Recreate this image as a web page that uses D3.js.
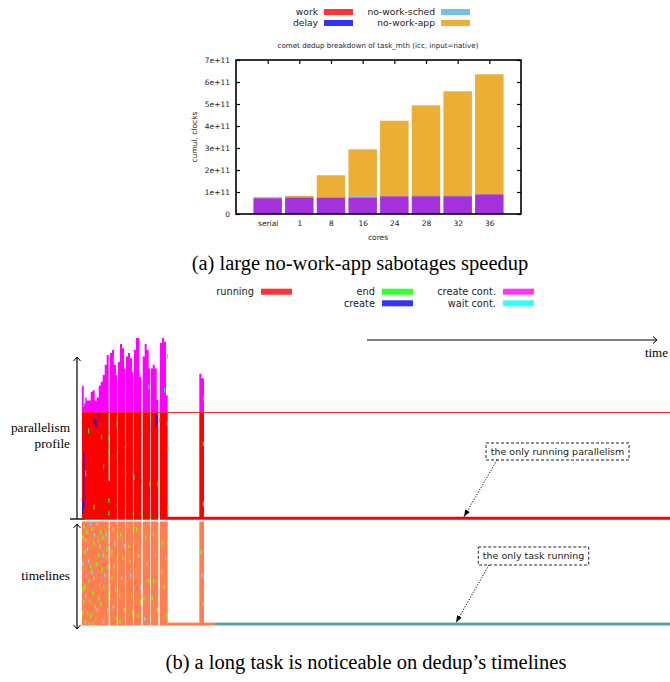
<!DOCTYPE html>
<html>
<head>
<meta charset="utf-8">
<title>dedup breakdown</title>
<style>
    body {
        margin: 0;
        background: #ffffff;
    }
    svg {
        display: block;
        font-family: "DejaVu Sans", sans-serif;
    }
    .serif {
        font-family: "Liberation Serif", "Times New Roman", serif;
    }
</style>
</head>
<body>
<svg id="fig" width="670" height="682"></svg>
<script src="https://d3js.org/d3.v7.min.js"></script>
<script>
// ---------- (a) cumulative clocks breakdown, values in units of 1e11
const cores = ['serial', '1', '8', '16', '24', '28', '32', '36'];
const workPart  = [0.72, 0.76, 0.76, 0.76, 0.81, 0.81, 0.81, 0.90];
const schedPart = [0, 0, 0, 0.05, 0, 0, 0, 0];
const otherPart = [0, 0, 0, 0, 0, 0.04, 0.04, 0];
const appPart   = [0.05, 0.06, 1.00, 2.13, 3.43, 4.09, 4.73, 5.45];
const yTicks = [0, 1, 2, 3, 4, 5, 6, 7];
const legendA = [
    ['work', '#ff3333'], ['delay', '#3333ff'],
    ['no-work-sched', '#74bfe9'], ['no-work-app', '#ebaf36']
];

// ---------- (b) parallelism profile: step function [time, active tasks]
const coreCount = 36;
const profile = [
    [0, 45], [1.7, 39], [3.3, 41], [4.7, 40], [8.7, 43], [10.7, 43.5], [12.7, 40], [14.7, 41],
    [16.7, 45], [18.7, 46.3], [20.7, 48.6], [22.7, 52], [24.7, 55.3],
    [26.7, 13], [28, 56], [30, 57], [32, 52], [34, 48.6],
    [35.3, 0], [36, 53], [38, 59], [40, 57.6], [42, 50.8],
    [43.3, 0], [44, 54.8], [46, 56], [48, 54.2], [50, 49.7],
    [51.3, 0], [52, 57], [54, 61], [56, 61], [57.3, 48],
    [59.3, 0], [60.7, 54.8], [62.7, 59], [64.7, 57], [66.7, 50.8],
    [68, 0], [68.7, 50.8], [70.7, 52], [72.7, 50.8], [74.7, 40.2],
    [76.3, 0], [78, 59.3], [80, 61], [82, 59.8], [84, 41.8],
    [85.7, 1], [117.3, 49], [119.3, 47.5], [122, 1], [588, 1]
];
// small events inside the profile: [time, from level, to level, kind]
const profileEvents = [
    [1.3, 4, 23, 'create'], [11.3, 32, 34.5, 'create'], [13.3, 31, 33.5, 'create'],
    [16.3, 34.5, 36, 'create'], [73, 31, 35.7, 'create'], [74.3, 32, 35, 'create'],
    [0.3, 2, 6, 'create'],
    [3, 14.5, 16.5, 'end'], [11.3, 3.4, 5, 'end'], [19, 27, 28.6, 'end'],
    [26.3, 26.4, 28, 'end'], [26.3, 22, 23.5, 'end'], [26.3, 5.6, 7.2, 'end'],
    [26.3, 1.3, 2.9, 'end'], [34.7, 32.6, 34.2, 'end'], [34.7, 4, 5.6, 'end'],
    [43, 14.6, 16.2, 'end'], [43, 4, 5.6, 'end'], [50.7, 14.6, 16.2, 'end'],
    [50.7, 1.2, 2.8, 'end'], [59, 12.2, 13.8, 'end'], [59.7, 1.2, 2.8, 'end'],
    [67.3, 11.2, 12.8, 'end'], [68, 0.6, 2.2, 'end'], [75.3, 11.2, 12.8, 'end'],
    [77, 32.6, 34.2, 'end'], [85.3, 23, 24.6, 'end'], [85.3, 3.4, 5, 'end'],
    [120.7, 24.7, 26.3, 'end'], [120.7, 4.5, 6.1, 'end'],
    [34.7, 20.5, 22.1, 'end'], [43, 25, 26.6, 'end'], [59, 28, 29.6, 'end'],
    [21, 17, 18.6, 'end'], [6, 29, 30.6, 'end'],
    [1.3, 38, 41, 'wait'], [31.3, 52.8, 54.4, 'wait'], [34.7, 31, 32.6, 'wait'],
    [51.3, 13.5, 15.1, 'wait'], [57, 48.2, 49.8, 'wait'], [66.3, 43.8, 45.4, 'wait'],
    [76.3, 0.6, 2.2, 'wait'], [82, 42.7, 44.3, 'wait'], [84.7, 31.5, 33.1, 'wait'],
    [84.7, 54, 55.6, 'wait'], [121.3, 39.9, 41.5, 'wait']
];

// ---------- (b) timelines
const workers = 36;
const busyPhases = [
    [0, 26.7], [28, 35.3], [36, 43.3], [44, 51.3], [52, 59.3],
    [60.7, 68], [68.7, 76.3], [78, 85.7], [117.3, 122]
];
const longTask = [[85.7, 133, '#ff7f50'], [133, 588, '#5f9ea0']];
const longTaskWorker = 35;
// [time, worker, kind]
const timelineEvents = [
    [1.3, 1, 'end'], [8, 0, 'wait'], [14.7, 0, 'wait'], [3, 6, 'end'], [2, 10, 'end'],
    [11.3, 7, 'end'], [18, 3, 'end'], [17.3, 8, 'wait'], [23, 12, 'end'], [19.7, 16, 'end'],
    [9.7, 17, 'wait'], [6.3, 20, 'end'], [1.3, 27, 'end'], [3, 25, 'wait'], [16.3, 26, 'end'],
    [14.7, 30, 'wait'], [8, 32, 'end'], [6.3, 35, 'wait'], [21.3, 22, 'end'], [4, 3, 'end'],
    [12, 4, 'wait'], [20, 5, 'end'], [24, 9, 'end'], [6, 13, 'wait'], [14, 14, 'end'],
    [22, 18, 'wait'], [2, 22, 'end'], [10, 24, 'end'], [18, 28, 'end'], [25, 30, 'wait'],
    [5, 31, 'end'], [13, 33, 'end'], [21, 34, 'wait'], [16, 11, 'end'], [8, 15, 'end'],
    [26, 25, 'end'], [3, 18, 'wait'], [0.5, 5, 'end'], [0.5, 14, 'wait'], [0.5, 23, 'end'],
    [0.5, 31, 'end'], [4.7, 9, 'wait'], [7, 27, 'end'], [9, 2, 'end'], [11, 19, 'wait'],
    [12.7, 29, 'end'], [15.3, 6, 'end'], [17, 21, 'wait'], [19, 33, 'end'], [23.7, 4, 'wait'],
    [25, 15, 'end'], [20.3, 11, 'wait'], [2.7, 34, 'end'], [10.3, 35, 'end'],
    [30.7, 2, 'end'], [32.3, 7, 'wait'], [31.3, 15, 'end'], [33, 23, 'end'], [30.7, 29, 'wait'],
    [29, 10, 'end'], [34, 33, 'end'], [29.3, 19, 'end'],
    [38, 4, 'end'], [40.3, 12, 'end'], [39, 19, 'wait'], [41.3, 30, 'end'], [37, 25, 'end'],
    [42, 8, 'wait'], [37.3, 34, 'end'],
    [46.3, 8, 'end'], [48, 18, 'wait'], [49, 25, 'end'], [45, 1, 'end'], [50, 31, 'end'],
    [47, 13, 'end'],
    [54, 2, 'end'], [56.3, 11, 'end'], [58, 22, 'wait'], [55.3, 32, 'end'], [53, 16, 'end'],
    [57.7, 27, 'end'],
    [63, 5, 'end'], [64.7, 14, 'wait'], [61.3, 26, 'end'], [66, 20, 'end'], [62, 33, 'wait'],
    [70.7, 4, 'end'], [73, 11, 'wait'], [71.3, 20, 'end'], [74.7, 30, 'end'], [69.7, 26, 'end'],
    [79.7, 7, 'end'], [83, 12, 'wait'], [81.3, 22, 'end'], [84, 32, 'end'], [79, 17, 'end'],
    [84.7, 27, 'wait'],
    [118, 10, 'end'], [119.7, 18, 'wait'], [120.7, 28, 'end']
];
const legendB = [
    ['running', '#ff3333', 0, 0], ['end', '#33ff33', 1, 0], ['create', '#3333ff', 1, 1],
    ['create cont.', '#ff33ff', 2, 0], ['wait cont.', '#33ffff', 2, 1]
];

const svg = d3.select('#fig');

// ================= (a) =================
const ax = d3.scalePoint().domain(cores).range([236, 521]).padding(1);
const ay = d3.scaleLinear().domain([0, 7]).range([214, 60]);
const barColors = { work: '#a431dc', sched: '#74bfe9', other: '#3aa676', app: '#ebaf36' };
const barRows = cores.map((c, i) => ({
    core: c, work: workPart[i], sched: schedPart[i], other: otherPart[i], app: appPart[i]
}));
const stacked = d3.stack().keys(['work', 'sched', 'other', 'app'])(barRows);
const bw = ax.step() * 0.9;

const ga = svg.append('g');
ga.selectAll('g.layer')
    .data(stacked)
    .join('g')
    .attr('class', 'layer')
    .attr('fill', d => barColors[d.key])
    .selectAll('rect')
    .data(d => d)
    .join('rect')
    .attr('x', d => ax(d.data.core) - bw / 2)
    .attr('width', bw)
    .attr('y', d => ay(d[1]))
    .attr('height', d => ay(d[0]) - ay(d[1]));

function styleAxis(g) {
    g.select('.domain').remove();
    g.attr('font-family', '"DejaVu Sans", sans-serif').attr('font-size', 7.5);
    g.selectAll('text').attr('fill', '#222');
    g.selectAll('line').attr('stroke', '#000').attr('stroke-width', 1.2);
}

ga.append('g')
    .attr('transform', 'translate(236,0)')
    .call(d3.axisLeft(ay).tickValues(yTicks).tickSize(-4).tickPadding(6)
        .tickFormat(v => v === 0 ? '0' : v + 'e+11'))
    .call(styleAxis);
ga.append('g')
    .attr('transform', 'translate(521,0)')
    .call(d3.axisRight(ay).tickValues(yTicks).tickSize(-4).tickFormat(''))
    .call(styleAxis);
ga.append('g')
    .attr('transform', 'translate(0,60)')
    .call(d3.axisTop(ax).tickSize(-4).tickFormat(''))
    .call(styleAxis);
ga.append('g')
    .attr('transform', 'translate(0,214)')
    .call(d3.axisBottom(ax).tickSize(0).tickPadding(7))
    .call(styleAxis);

ga.append('rect')
    .attr('x', 236).attr('y', 60).attr('width', 285).attr('height', 154)
    .attr('fill', 'none').attr('stroke', '#000').attr('stroke-width', 1.6);

ga.append('text')
    .attr('x', 378).attr('y', 48)
    .attr('text-anchor', 'middle').attr('font-size', 7.1).attr('fill', '#222')
    .text('comet dedup breakdown of task_mth (icc, input=native)');
ga.append('text')
    .attr('transform', 'translate(196.5,137) rotate(-90)')
    .attr('text-anchor', 'middle').attr('font-size', 7.5).attr('fill', '#222')
    .text('cumul. clocks');
ga.append('text')
    .attr('x', 378).attr('y', 240)
    .attr('text-anchor', 'middle').attr('font-size', 7.5).attr('fill', '#222')
    .text('cores');

// legend (a)
const legA = ga.append('g')
    .selectAll('g')
    .data(legendA)
    .join('g')
    .attr('transform', (d, i) => `translate(${318 + Math.floor(i / 2) * 117},${12 + (i % 2) * 11})`);
legA.append('text')
    .attr('text-anchor', 'end').attr('dy', '0.35em')
    .attr('font-size', 9.2).attr('fill', '#222')
    .text(d => d[0]);
legA.append('rect')
    .attr('x', 6).attr('y', -3).attr('width', 29).attr('height', 6)
    .attr('fill', d => d[1]);

svg.append('text')
    .attr('class', 'serif')
    .attr('x', 360).attr('y', 270)
    .attr('text-anchor', 'middle').attr('font-size', 20.5)
    .text('(a) large no-work-app sabotages speedup');

// ================= (b) =================
const tx = d3.scaleLinear().domain([0, 588]).range([82, 670]);
const py = d3.scaleLinear().domain([0, coreCount]).range([519.7, 412.5]);
const ry = d3.scaleBand().domain(d3.range(workers)).range([521.5, 625.5]);
const eventColor = { create: '#1010ff', end: '#22ee22', wait: '#00f0f0' };
const tlColor = { end: '#7cfc00', wait: '#87cefa' };

const gb = svg.append('g');

// legend (b)
const legB = gb.append('g')
    .selectAll('g')
    .data(legendB)
    .join('g')
    .attr('transform', d => `translate(${254 + d[2] * 121},${291.7 + d[3] * 11.6})`);
legB.append('text')
    .attr('text-anchor', 'end').attr('dy', '0.35em')
    .attr('font-size', 9.8).attr('fill', '#222')
    .text(d => d[0]);
legB.append('rect')
    .attr('x', 7).attr('y', -3).attr('width', 31).attr('height', 6)
    .attr('fill', d => d[1]);

// time arrow
gb.append('line')
    .attr('x1', 367).attr('y1', 340).attr('x2', 657).attr('y2', 340)
    .attr('stroke', '#000').attr('stroke-width', 1);
gb.append('path')
    .attr('d', 'M653,336.5 L657,340 L653,343.5')
    .attr('fill', 'none').attr('stroke', '#000').attr('stroke-width', 1);
gb.append('text')
    .attr('class', 'serif')
    .attr('x', 668).attr('y', 357).attr('text-anchor', 'end').attr('font-size', 13)
    .text('time');

// profile
const runArea = d3.area()
    .curve(d3.curveStepAfter)
    .x(d => tx(d[0]))
    .y0(py(0))
    .y1(d => py(Math.min(d[1], coreCount)));
const contArea = d3.area()
    .curve(d3.curveStepAfter)
    .x(d => tx(d[0]))
    .y0(py(coreCount))
    .y1(d => py(Math.max(d[1], coreCount)));

gb.append('path').datum(profile).attr('d', contArea).attr('fill', '#ff00ff');
gb.append('path').datum(profile).attr('d', runArea).attr('fill', '#ff0000');

gb.append('line')
    .attr('x1', tx(0)).attr('x2', tx(588))
    .attr('y1', py(coreCount)).attr('y2', py(coreCount))
    .attr('stroke', '#ff2a2a').attr('stroke-width', 1);

gb.append('g')
    .selectAll('rect')
    .data(profileEvents)
    .join('rect')
    .attr('x', d => tx(d[0]))
    .attr('width', 1.2)
    .attr('y', d => py(d[2]))
    .attr('height', d => py(d[1]) - py(d[2]))
    .attr('fill', d => eventColor[d[3]]);

// timelines
gb.append('g')
    .selectAll('rect')
    .data(busyPhases)
    .join('rect')
    .attr('x', d => tx(d[0]))
    .attr('width', d => tx(d[1]) - tx(d[0]))
    .attr('y', ry(0))
    .attr('height', ry.range()[1] - ry(0))
    .attr('fill', '#ff7f50');
gb.append('g')
    .selectAll('rect')
    .data(longTask)
    .join('rect')
    .attr('x', d => tx(d[0]))
    .attr('width', d => tx(d[1]) - tx(d[0]))
    .attr('y', ry(longTaskWorker))
    .attr('height', ry.bandwidth())
    .attr('fill', d => d[2]);
gb.append('g')
    .selectAll('rect')
    .data(timelineEvents)
    .join('rect')
    .attr('x', d => tx(d[0]))
    .attr('width', 1.3)
    .attr('y', d => ry(d[1]))
    .attr('height', ry.bandwidth() * 1.3)
    .attr('fill', d => tlColor[d[2]]);

// left arrows and labels
gb.append('line')
    .attr('x1', 70).attr('x2', 85).attr('y1', 519).attr('y2', 519)
    .attr('stroke', '#555').attr('stroke-width', 2);
gb.append('line')
    .attr('x1', 77).attr('x2', 77).attr('y1', 519).attr('y2', 357)
    .attr('stroke', '#000').attr('stroke-width', 1.2);
gb.append('line')
    .attr('x1', 77).attr('x2', 77).attr('y1', 524).attr('y2', 629)
    .attr('stroke', '#000').attr('stroke-width', 1.2);
gb.append('path')
    .attr('d', 'M73.5,361 L77,357 L80.5,361 M73.5,528 L77,524 L80.5,528 M73.5,625 L77,629 L80.5,625')
    .attr('fill', 'none').attr('stroke', '#000').attr('stroke-width', 1);

const sideLabels = [['parallelism', 431.7], ['profile', 448], ['timelines', 580]];
gb.append('g')
    .selectAll('text')
    .data(sideLabels)
    .join('text')
    .attr('class', 'serif')
    .attr('x', 70).attr('y', d => d[1])
    .attr('text-anchor', 'end').attr('font-size', 13.3)
    .text(d => d[0]);

// annotations
svg.append('defs').append('marker')
    .attr('id', 'tip')
    .attr('viewBox', '0 0 8 6')
    .attr('refX', 8).attr('refY', 3)
    .attr('markerWidth', 7).attr('markerHeight', 5.5)
    .attr('markerUnits', 'userSpaceOnUse')
    .attr('orient', 'auto')
    .append('path').attr('d', 'M0,0 L8,3 L0,6 z').attr('fill', '#000');

const notes = [
    { text: 'the only running parallelism', box: [486, 443, 143, 17], from: [497, 460], to: [tx(382), py(1)] },
    { text: 'the only task running', box: [478.3, 547, 110.4, 18], from: [489, 565], to: [tx(374), ry(longTaskWorker)] }
];
notes.forEach(n => {
    gb.append('rect')
        .attr('x', n.box[0]).attr('y', n.box[1]).attr('width', n.box[2]).attr('height', n.box[3])
        .attr('fill', '#fff').attr('stroke', '#222').attr('stroke-width', 1)
        .attr('stroke-dasharray', '3,2');
    gb.append('text')
        .attr('x', n.box[0] + n.box[2] / 2).attr('y', n.box[1] + n.box[3] / 2)
        .attr('dy', '0.35em').attr('text-anchor', 'middle')
        .attr('font-size', 9.5).attr('fill', '#222')
        .text(n.text);
    gb.append('line')
        .attr('x1', n.from[0]).attr('y1', n.from[1])
        .attr('x2', n.to[0]).attr('y2', n.to[1])
        .attr('stroke', '#000').attr('stroke-width', 1)
        .attr('stroke-dasharray', '1.2,1.6')
        .attr('marker-end', 'url(#tip)');
});

svg.append('text')
    .attr('class', 'serif')
    .attr('x', 366).attr('y', 669)
    .attr('text-anchor', 'middle').attr('font-size', 20.5)
    .text('(b) a long task is noticeable on dedup\u2019s timelines');
</script>
</body>
</html>
